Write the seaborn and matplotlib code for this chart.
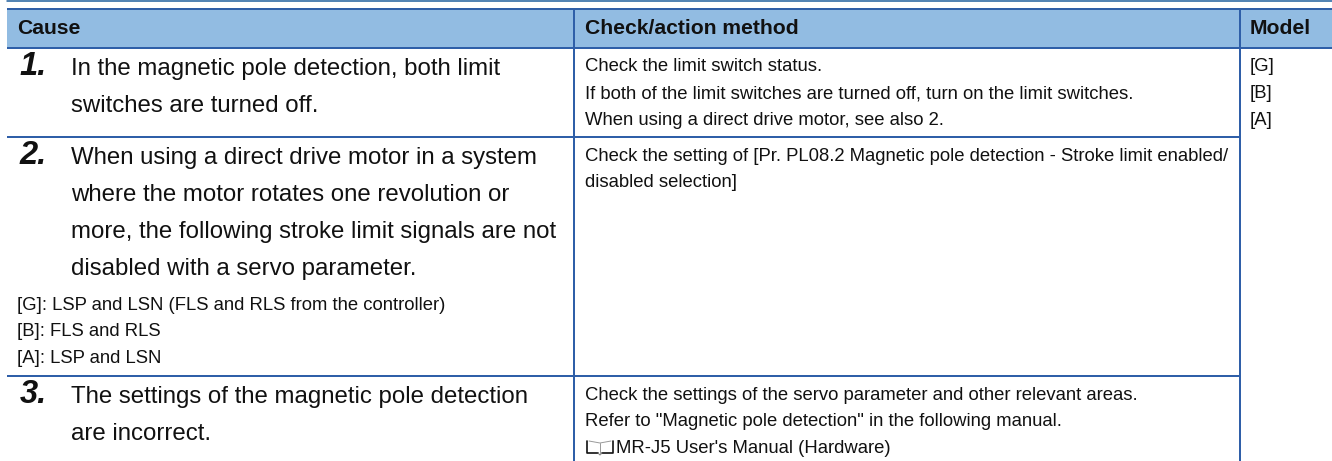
# table of causes / checks, drawn on a pixel-sized axes
import matplotlib
matplotlib.use("Agg")
import matplotlib.pyplot as plt
import seaborn as sns

headers = ["Cause", "Check/action method", "Model"]
numbers = ["1.", "2.", "3."]
cause_lines = [
    ["In the magnetic pole detection, both limit", "switches are turned off."],
    ["When using a direct drive motor in a system", "where the motor rotates one revolution or",
     "more, the following stroke limit signals are not", "disabled with a servo parameter."],
    ["The settings of the magnetic pole detection", "are incorrect."],
]
signal_lines = ["[G]: LSP and LSN (FLS and RLS from the controller)", "[B]: FLS and RLS", "[A]: LSP and LSN"]
check_lines = [
    ["Check the limit switch status.", "If both of the limit switches are turned off, turn on the limit switches.",
     "When using a direct drive motor, see also 2."],
    ["Check the setting of [Pr. PL08.2 Magnetic pole detection - Stroke limit enabled/", "disabled selection]"],
    ["Check the settings of the servo parameter and other relevant areas.",
     "Refer to \"Magnetic pole detection\" in the following manual."],
]
manual = "MR-J5 User's Manual (Hardware)"
models = ["[G]", "[B]", "[A]"]

sns.set_theme(style="white")
plt.rcParams["font.family"] = ["Liberation Sans", "DejaVu Sans"]

W, H = 1332, 461
fig = plt.figure(figsize=(W / 100, H / 100), dpi=100)
ax = fig.add_axes([0, 0, 1, 1])
ax.set_xlim(0, W)
ax.set_ylim(H, 0)
ax.axis("off")

blue = "#2f5fa8"
left, c1, c2, right = 7, 574, 1240, 1332
head_top, head_bot, row1, row2, bottom = 9, 48, 137, 376, 461
rule = 1.44

ax.fill_between([left, right], head_top, head_bot, color="#92bce2", lw=0)
ax.plot([left, W], [1.5, 1.5], color="#1f5f9e", lw=1.1)
ax.plot([left, right], [head_top, head_top], color=blue, lw=rule, solid_capstyle="butt")
ax.plot([left, right], [head_bot, head_bot], color=blue, lw=rule, solid_capstyle="butt")
ax.plot([left, c2], [row1, row1], color=blue, lw=rule, solid_capstyle="butt")
ax.plot([left, c2], [row2, row2], color=blue, lw=rule, solid_capstyle="butt")
ax.plot([c1, c1], [head_top, bottom], color=blue, lw=rule, solid_capstyle="butt")
ax.plot([c2, c2], [head_top, bottom], color=blue, lw=rule, solid_capstyle="butt")

small = 13.3
big = 17.3
num = 23.5
col = "#111111"


def put(x, y, s, size=small, **kw):
    ax.text(x, y, s, fontsize=size, color=col, va="baseline", ha="left", **kw)


for x, s in zip([17, 585, 1250], headers):
    put(x, 33.5, s, size=15.2, fontweight="bold")

for y, s in zip([75, 163.5, 403], numbers):
    put(19.5, y, s, size=num, fontweight="bold", fontstyle="italic")

for ys, lines in zip([[75, 111.5], [163.5, 200.5, 238, 275], [403, 440]], cause_lines):
    for y, s in zip(ys, lines):
        put(71, y, s, size=big)

for y, s in zip([310, 336, 362.5], signal_lines):
    put(17, y, s)

for ys, lines in zip([[71, 98, 125], [160.5, 186.5], [399.5, 426]], check_lines):
    for y, s in zip(ys, lines):
        put(585, y, s)

# small open book in front of the manual name
ax.plot([587, 587, 598], [441, 453, 453], color=col, lw=1.2)
ax.plot([602, 613, 613], [453, 453, 441], color=col, lw=1.2)
ax.plot([598, 600, 602], [453, 455, 453], color="#777777", lw=0.7)
ax.plot([589, 600, 611], [441, 443, 441], color="#999999", lw=0.7)
ax.plot([600, 600], [443, 454], color="#999999", lw=0.7)
put(616, 452.5, manual)

for y, s in zip([71, 98, 125], models):
    put(1250, y, s)

fig.savefig("out.png", dpi=100)
